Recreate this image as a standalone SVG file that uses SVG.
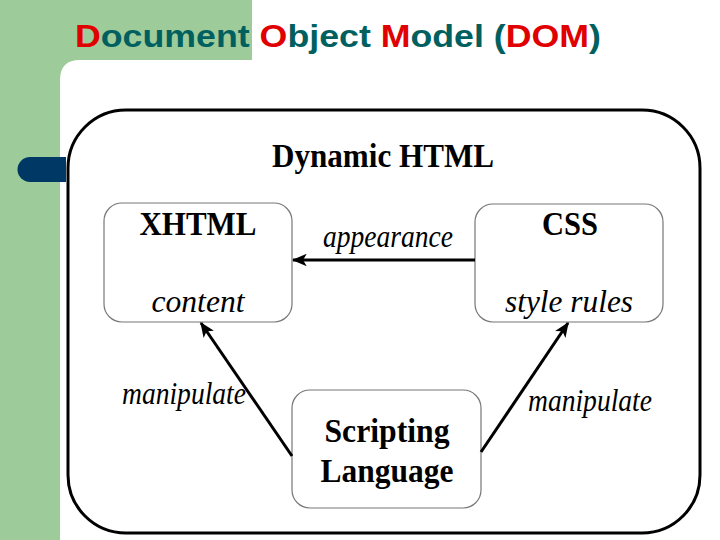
<svg xmlns="http://www.w3.org/2000/svg" width="720" height="540" viewBox="0 0 720 540">
<style>
.node{fill:#fff;stroke:#777;stroke-width:1.2}
.b{font-family:"Liberation Serif",serif;font-weight:bold;font-size:34px;fill:#000;text-anchor:middle}
.i{font-family:"Liberation Serif",serif;font-style:italic;font-size:32px;fill:#000;text-anchor:middle}
.m{font-size:26px}
.edge{stroke:#000;stroke-width:3;fill:none;marker-end:url(#ah)}
.r{fill:#E00000}
</style>
<defs>
<marker id="ah" viewBox="0 0 12 10" refX="11" refY="5" markerWidth="5" markerHeight="4.2" orient="auto" markerUnits="strokeWidth">
<path d="M0,0 L12,5 L0,10 L3,5 Z" fill="#000"/>
</marker>
</defs>
<rect x="0" y="0" width="720" height="540" fill="#fff"/>
<rect x="0" y="0" width="252" height="80" fill="#9ECB9A"/>
<rect x="0" y="0" width="60" height="540" fill="#9ECB9A"/>
<path d="M60,540 L60,80 Q60,60 80,60 L252,60 L252,80 L720,80 L720,540 Z" fill="#fff"/>
<rect x="252" y="60" width="468" height="480" fill="#fff"/>
<text x="75" y="47" font-family="Liberation Sans,Arial,sans-serif" font-weight="bold" font-size="32" fill="#006060" textLength="526" lengthAdjust="spacingAndGlyphs"><tspan class="r">D</tspan>ocument <tspan class="r">O</tspan>bject <tspan class="r">M</tspan>odel (<tspan class="r">DOM</tspan>)</text>
<path d="M30,157 L66,157 L66,182 L30,182 A12.5,12.5 0 0 1 30,157 Z" fill="#003865"/>
<g id="dhtml">
<rect x="68" y="110" width="632" height="423" rx="58" ry="58" fill="none" stroke="#000" stroke-width="3"/>
<text class="b" x="383" y="167" font-size="33" textLength="222" lengthAdjust="spacingAndGlyphs">Dynamic HTML</text>
</g>
<g id="xhtml">
<rect class="node" x="104" y="203" width="188" height="119" rx="18"/>
<text class="b" x="198" y="235" textLength="117" lengthAdjust="spacingAndGlyphs">XHTML</text>
<text class="i" x="198" y="312" textLength="93" lengthAdjust="spacingAndGlyphs">content</text>
</g>
<g id="css">
<rect class="node" x="475" y="204" width="188" height="118" rx="18"/>
<text class="b" x="570" y="235" textLength="56" lengthAdjust="spacingAndGlyphs">CSS</text>
<text class="i" x="569" y="312" textLength="128" lengthAdjust="spacingAndGlyphs">style rules</text>
</g>
<g id="script">
<rect class="node" x="292" y="390" width="189" height="118" rx="18"/>
<text class="b" x="387" y="442" font-size="35" textLength="125" lengthAdjust="spacingAndGlyphs">Scripting</text>
<text class="b" x="387" y="482" font-size="35" textLength="133" lengthAdjust="spacingAndGlyphs">Language</text>
</g>
<g id="connectors">
<line class="edge" x1="475" y1="260" x2="293" y2="260"/>
<line class="edge" x1="292" y1="456" x2="201" y2="323"/>
<line class="edge" x1="481" y1="452" x2="568" y2="323"/>
<text class="i" x="388" y="247" font-size="29" textLength="130" lengthAdjust="spacingAndGlyphs">appearance</text>
<text class="i" x="184" y="404" font-size="27" textLength="124" lengthAdjust="spacingAndGlyphs">manipulate</text>
<text class="i" x="590" y="411" font-size="27" textLength="124" lengthAdjust="spacingAndGlyphs">manipulate</text>
</g>
</svg>
